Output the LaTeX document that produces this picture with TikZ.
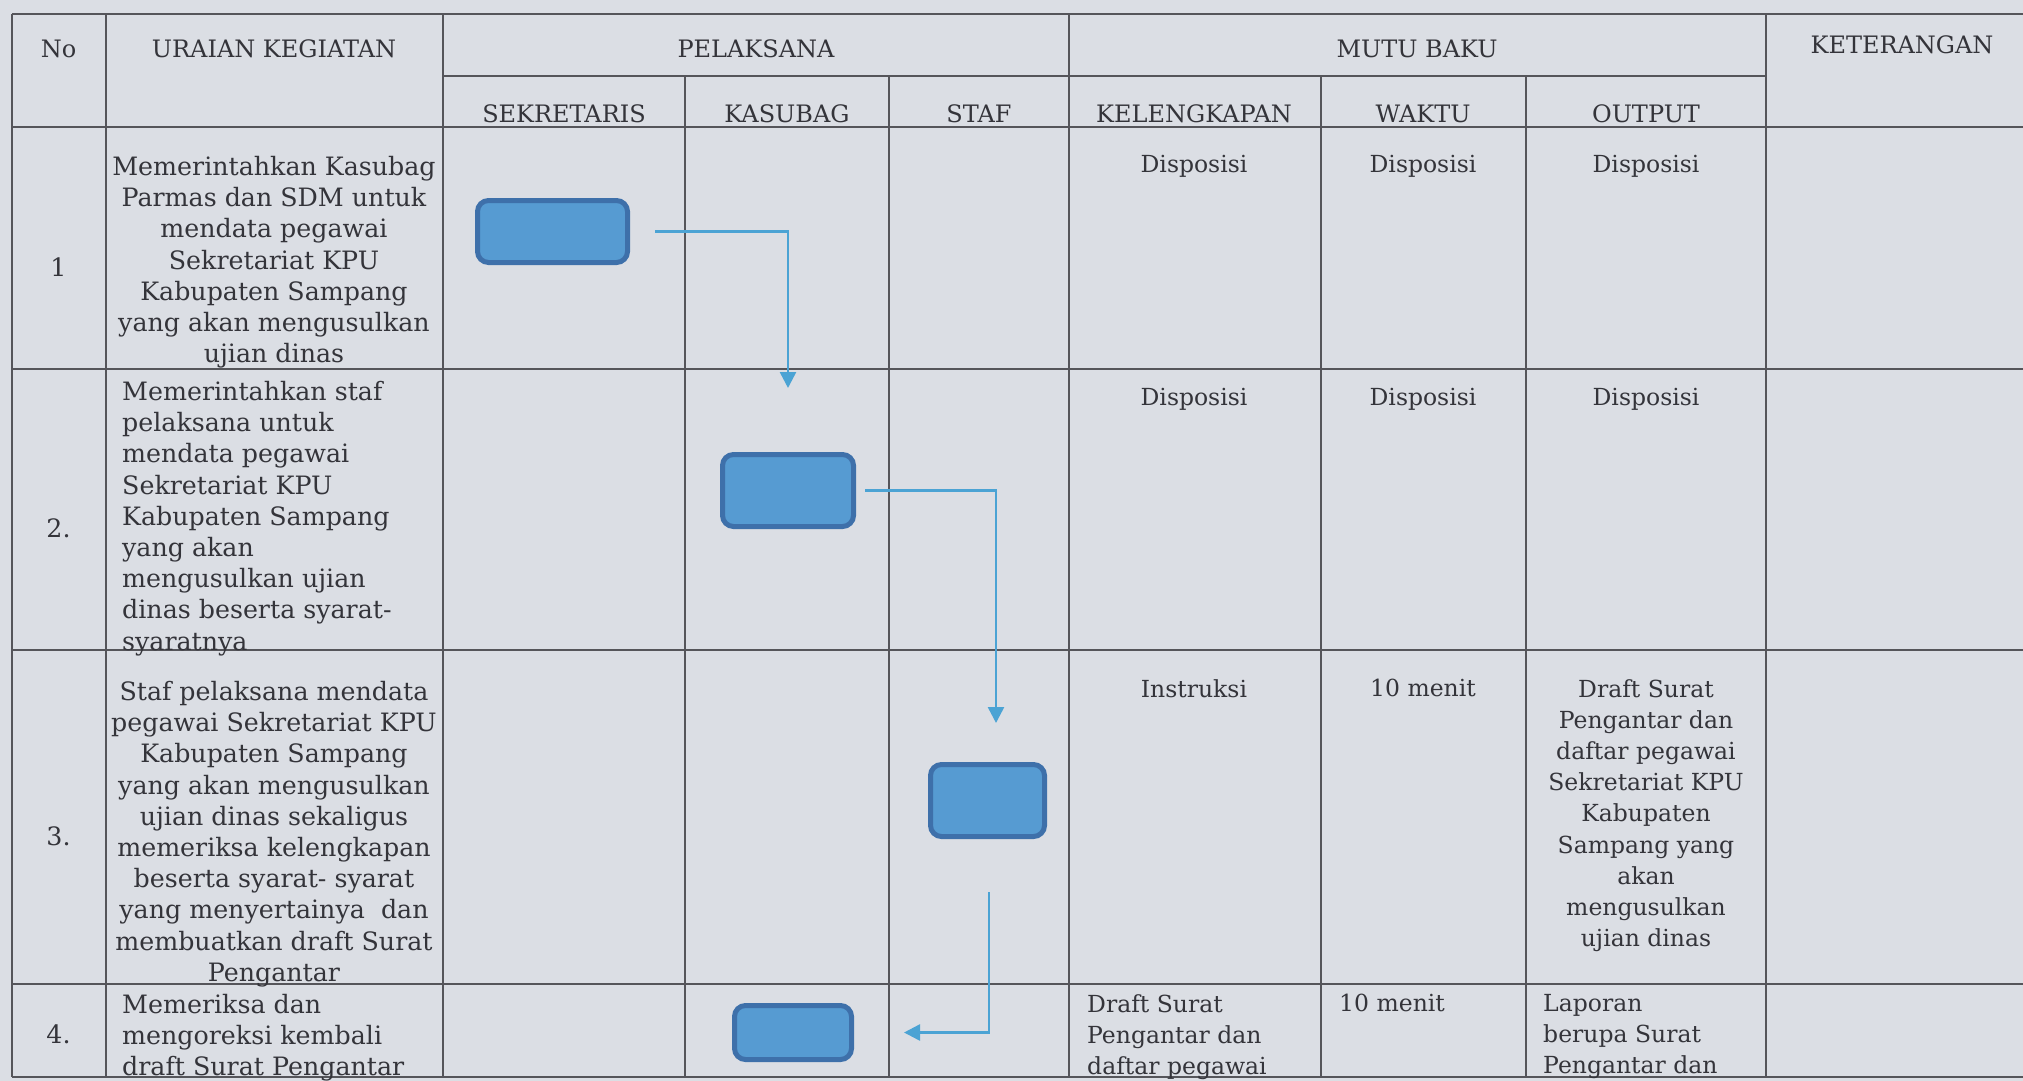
\documentclass[tikz,border=0pt]{standalone}
\usepackage{fontspec}
\setmainfont{DejaVu Serif}
\usetikzlibrary{arrows.meta}
\definecolor{bg}{RGB}{219,222,228}
\definecolor{gridc}{RGB}{85,85,90}
\definecolor{txt}{RGB}{52,52,58}
\definecolor{boxfill}{RGB}{86,155,210}
\definecolor{boxline}{RGB}{62,112,170}
\definecolor{arrowc}{RGB}{75,163,212}
\begin{document}
\begin{tikzpicture}[x=1pt,y=-1pt,
  tline/.style={draw=gridc,line width=2pt},
  hdr/.style={text=txt,font=\fontsize{24}{28}\selectfont,inner sep=0pt,anchor=base},
  body/.style={text=txt,font=\fontsize{23.5}{31.2}\selectfont,inner sep=0pt},
  wide/.style={text=txt,font=\fontsize{25.3}{31.2}\selectfont,inner sep=0pt},
  act/.style={draw=boxline,fill=boxfill,line width=5pt,rounded corners=11pt,inner sep=0pt},
  flow/.style={draw=arrowc,line width=2.5pt,-{Triangle[length=16pt,width=16pt]}},
]
\fill[bg] (0,0) rectangle (2023,1081);
\useasboundingbox (0,0) rectangle (2023,1081);

% grid
\draw[tline] (12,14) -- (2023,14);
\draw[tline] (443,76) -- (1766,76);
\draw[tline] (12,127) -- (2023,127);
\draw[tline] (12,369) -- (2023,369);
\draw[tline] (12,650) -- (2023,650);
\draw[tline] (12,984) -- (2023,984);
\draw[tline] (12,1077) -- (2023,1077);
\foreach \x in {12,106,443,1069,1766} \draw[tline] (\x,14) -- (\x,1077);
\foreach \x in {685,889,1321,1526} \draw[tline] (\x,76) -- (\x,1077);

% headers
\node[hdr] (hNo) at (58.5,58) {No};
\node[hdr] (hUr) at (274,58) {URAIAN KEGIATAN};
\node[hdr] (hPel) at (756,58) {PELAKSANA};
\node[hdr] (hMutu) at (1417,58) {MUTU BAKU};
\node[hdr] (hKet) at (1902,53) {KETERANGAN};
\node[hdr] (hSek) at (564,122) {SEKRETARIS};
\node[hdr] (hKas) at (787,122) {KASUBAG};
\node[hdr] (hStaf) at (979,122) {STAF};
\node[hdr] (hKel) at (1194,122) {KELENGKAPAN};
\node[hdr] (hWak) at (1423,122) {WAKTU};
\node[hdr] (hOut) at (1646,122) {OUTPUT};

% row numbers
\node[wide,anchor=base] (n1) at (58.5,276) {1};
\node[wide,anchor=base] (n2) at (58.5,537) {2.};
\node[wide,anchor=base] (n3) at (58.5,845) {3.};
\node[wide,anchor=base] (n4) at (58.5,1043) {4.};

% uraian
\node[wide,anchor=north,align=center] (u1) at (274,156)
  {Memerintahkan Kasubag\\Parmas dan SDM untuk\\mendata pegawai\\Sekretariat KPU\\Kabupaten Sampang\\yang akan mengusulkan\\ujian dinas};
\node[wide,anchor=north west,align=left] (u2) at (122,381)
  {Memerintahkan staf\\pelaksana untuk\\mendata pegawai\\Sekretariat KPU\\Kabupaten Sampang\\yang akan\\mengusulkan ujian\\dinas beserta syarat-\\syaratnya};
\node[wide,anchor=north,align=center] (u3) at (274,681)
  {Staf pelaksana mendata\\pegawai Sekretariat KPU\\Kabupaten Sampang\\yang akan mengusulkan\\ujian dinas sekaligus\\memeriksa kelengkapan\\beserta syarat- syarat\\yang menyertainya\ \ dan\\membuatkan draft Surat\\Pengantar};
\node[wide,anchor=north west,align=left] (u4) at (122,994)
  {Memeriksa dan\\mengoreksi kembali\\draft Surat Pengantar};

% mutu baku
\node[body,anchor=north] (k1) at (1194,155) {Disposisi};
\node[body,anchor=north] (w1) at (1423,155) {Disposisi};
\node[body,anchor=north] (o1) at (1646,155) {Disposisi};
\node[body,anchor=north] (k2) at (1194,388) {Disposisi};
\node[body,anchor=north] (w2) at (1423,388) {Disposisi};
\node[body,anchor=north] (o2) at (1646,388) {Disposisi};
\node[body,anchor=north] (k3) at (1194,679) {Instruksi};
\node[body,anchor=north] (w3) at (1423,679) {10 menit};
\node[body,anchor=north,align=center] (o3) at (1646,679)
  {Draft Surat\\Pengantar dan\\daftar pegawai\\Sekretariat KPU\\Kabupaten\\Sampang yang\\akan\\mengusulkan\\ujian dinas};
\node[body,anchor=north west,align=left] (k4) at (1087,994)
  {Draft Surat\\Pengantar dan\\daftar pegawai};
\node[body,anchor=north west] (w4) at (1339,994) {10 menit};
\node[body,anchor=north west,align=left] (o4) at (1543,994)
  {Laporan\\berupa Surat\\Pengantar dan};

% activity boxes
\node[act,minimum width=150pt,minimum height=62pt] (b1) at (552.5,231.5) {};
\node[act,minimum width=131pt,minimum height=72pt] (b2) at (788,490.5) {};
\node[act,minimum width=114pt,minimum height=72pt] (b3) at (987.5,800.5) {};
\node[act,minimum width=117pt,minimum height=54pt] (b4) at (793,1032.5) {};

% flow
\draw[flow,shorten <=25pt,shorten >=64pt] (b1.east) -| (b2.north);
\draw[flow,shorten <=9pt,shorten >=39pt] (b2.east) -| ([xshift=8.5pt]b3.north);
\draw[flow,shorten <=53pt,shorten >=50pt] ([xshift=1.5pt]b3.south) |- (b4.east);
\end{tikzpicture}
\end{document}
